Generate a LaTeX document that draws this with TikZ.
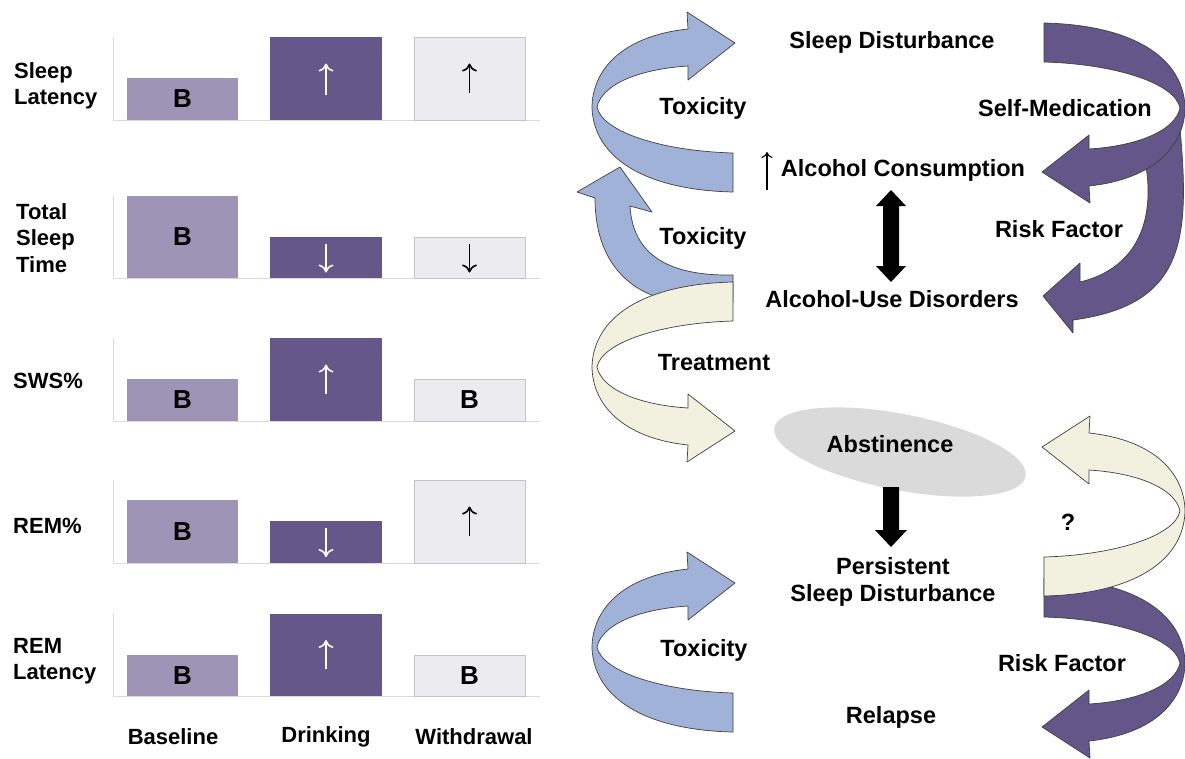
\documentclass[tikz,border=0pt]{standalone}
\usepackage{fontspec}
\setmainfont{Liberation Sans}
\usetikzlibrary{arrows.meta,calc,shapes.geometric}
\definecolor{bbase}{RGB}{158,148,182}
\definecolor{bdrink}{RGB}{101,87,138}
\definecolor{bwith}{RGB}{236,235,240}
\definecolor{bwithb}{RGB}{196,196,200}
\definecolor{axisc}{RGB}{218,218,218}
\definecolor{rblue}{RGB}{161,178,216}
\definecolor{rbeige}{RGB}{242,240,222}
\definecolor{rpurp}{RGB}{101,86,138}
\definecolor{ellg}{RGB}{218,218,218}
\newcommand{\ribA}{(733,153) .. controls (662,151) and (602,132) .. (597,107) .. controls (602,84) and (640,69) .. (688,66) -- (688,80) -- (735,43) -- (687,12) -- (688,29) .. controls (622,36) and (592,70) .. (592,108) .. controls (594,158) and (645,190) .. (733,192) -- cycle}
\begin{document}
\begin{tikzpicture}[x=1pt,y=-1pt,
  lbl/.style={font=\fontsize{22}{26.5}\selectfont\bfseries, inner sep=0pt, align=left},
  rl/.style={font=\fontsize{23.5}{27}\selectfont\bfseries, inner sep=0pt, align=center},
  btxt/.style={font=\fontsize{26}{30}\selectfont\bfseries, inner sep=0pt},
  barB/.style={fill=bbase, minimum width=111pt, inner sep=0pt, outer sep=0pt, anchor=south west},
  barD/.style={fill=bdrink, minimum width=112pt, inner sep=0pt, outer sep=0pt, anchor=south west},
  barW/.style={fill=bwith, draw=bwithb, line width=1pt, minimum width=111pt, inner sep=0pt, outer sep=0pt, anchor=south west},
  axisl/.style={draw=axisc, line width=1pt},
  wup/.style={draw=white, line width=1.6pt, -{To[length=8pt,width=15pt]}},
  kup/.style={draw=black, line width=1.6pt, -{To[length=8pt,width=15pt]}},
  ribbon/.style={draw=black!75, line width=0.7pt, line join=round},
  blk/.style={fill=black}]
\useasboundingbox (0,0) rectangle (1185,758);
\fill[white] (0,0) rectangle (1185,758);

% ---------- left: axes ----------
\foreach \b in {120,278,421,563,696}{
  \draw[axisl] (113,\b-83) -- (113,\b) -- (540,\b);
}
% row 1: sleep latency
\node[barB, minimum height=42pt] (r1b) at (127,120) {};
\node[barD, minimum height=83pt] (r1d) at (270,120) {};
\node[barW, minimum height=83pt] (r1w) at (414,120) {};
\node[btxt] (r1bt) at (r1b.center) {B};
\draw[wup] ([yshift=-16pt]r1d.center) -- ([yshift=15pt]r1d.center);
\draw[kup] ([yshift=-14pt]r1w.center) -- ([yshift=15pt]r1w.center);
% row 2: total sleep time
\node[barB, minimum height=82pt] (r2b) at (127,278) {};
\node[barD, minimum height=41pt] (r2d) at (270,278) {};
\node[barW, minimum height=41pt] (r2w) at (414,278) {};
\node[btxt] (r2bt) at (r2b.center) {B};
\draw[wup] ([yshift=14pt]r2d.center) -- ([yshift=-15pt]r2d.center);
\draw[kup] ([yshift=14pt]r2w.center) -- ([yshift=-15pt]r2w.center);
% row 3: SWS%
\node[barB, minimum height=42pt] (r3b) at (127,421) {};
\node[barD, minimum height=83pt] (r3d) at (270,421) {};
\node[barW, minimum height=42pt] (r3w) at (414,421) {};
\node[btxt] (r3bt) at (r3b.center) {B};
\node[btxt] (r3wt) at (r3w.center) {B};
\draw[wup] ([yshift=-14pt]r3d.center) -- ([yshift=15pt]r3d.center);
% row 4: REM%
\node[barB, minimum height=63pt] (r4b) at (127,563) {};
\node[barD, minimum height=42pt] (r4d) at (270,563) {};
\node[barW, minimum height=83pt] (r4w) at (414,563) {};
\node[btxt] (r4bt) at (r4b.center) {B};
\draw[wup] ([yshift=14pt]r4d.center) -- ([yshift=-15pt]r4d.center);
\draw[kup] ([yshift=-14pt]r4w.center) -- ([yshift=15pt]r4w.center);
% row 5: REM latency
\node[barB, minimum height=41pt] (r5b) at (127,696) {};
\node[barD, minimum height=82pt] (r5d) at (270,696) {};
\node[barW, minimum height=41pt] (r5w) at (414,696) {};
\node[btxt] (r5bt) at (r5b.center) {B};
\node[btxt] (r5wt) at (r5w.center) {B};
\draw[wup] ([yshift=-14pt]r5d.center) -- ([yshift=15pt]r5d.center);

% row labels
\node[lbl, anchor=west] (l1) at (14,86) {Sleep\\Latency};
\node[lbl, anchor=west] (l2) at (16,238) {Total\\Sleep\\Time};
\node[lbl, anchor=west] (l3) at (13,381) {SWS\%};
\node[lbl, anchor=west] (l4) at (13,526) {REM\%};
\node[lbl, anchor=west] (l5) at (13,661) {REM\\Latency};
% column labels
\node[lbl] (cb) at (173,737) {Baseline};
\node[lbl] (cd) at (326,737) {Drinking};
\node[lbl] (cw) at (474,737) {Withdrawal};

% ---------- right: ribbons ----------
% A1 top-left blue
\path[ribbon, fill=rblue] \ribA;
% A2 rising blue
\path[ribbon, fill=rblue] (733,275) .. controls (680,276) and (633,262) .. (630,206) -- (652,212) -- (620,167) -- (577,192) -- (595,198) .. controls (595,250) and (618,285) .. (660,298) -- (733,302) -- cycle;
% A3 beige treatment
\begin{scope}[shift={(0,474)}, yscale=-1]
  \path[ribbon, fill=rbeige] \ribA;
\end{scope}
% A4 bottom blue
\begin{scope}[shift={(0,540)}]
  \path[ribbon, fill=rblue] \ribA;
\end{scope}
% P2 purple risk factor (behind P1)
\path[ribbon, fill=rpurp] (1143,152) .. controls (1155,200) and (1150,265) .. (1080,282) -- (1080,263) -- (1043,296) -- (1073,333) -- (1073,320) .. controls (1185,305) and (1190,240) .. (1180,128) -- cycle;
% P1 purple self-medication
\begin{scope}[shift={(1777,215)}, xscale=-1, yscale=-1]
  \path[ribbon, fill=rpurp] \ribA;
\end{scope}
% P4 purple risk factor (bottom)
\begin{scope}[shift={(1777,770)}, xscale=-1, yscale=-1]
  \path[ribbon, fill=rpurp] \ribA;
\end{scope}
% P3 beige question
\begin{scope}[shift={(1777,404)}, xscale=-1]
  \path[ribbon, fill=rbeige] \ribA;
\end{scope}

% ellipse
\node[ellipse, fill=ellg, minimum width=256pt, minimum height=76pt, inner sep=0pt, rotate=-11] (absell) at (900,452) {};

% ---------- right: texts ----------
\node[rl] (sd) at (892,42) {Sleep Disturbance};
\node[rl] (tox1) at (703,108) {Toxicity};
\node[rl] (selfmed) at (1065,108) {Self-Medication};
\node[rl] (cons) at (903,170) {Alcohol Consumption};
\node[rl] (tox2) at (703,238) {Toxicity};
\node[rl] (risk1) at (1059,229) {Risk Factor};
\node[rl] (aud) at (892,299) {Alcohol-Use Disorders};
\node[rl] (treat) at (714,363) {Treatment};
\node[rl] (abs) at (890,444) {Abstinence};
\node[rl] (q) at (1068,522) {?};
\node[rl] (psd) at (893,582) {Persistent\\Sleep Disturbance};
\node[rl] (tox3) at (704,650) {Toxicity};
\node[rl] (risk2) at (1062,663) {Risk Factor};
\node[rl] (rel) at (891,717) {Relapse};

% thin up arrow before Alcohol Consumption
\coordinate (upb) at (767,190);
\draw[draw=black, line width=1.1pt, -{To[length=6pt,width=11pt]}] (upb) -- ([yshift=38pt]upb);

% black double arrow
\coordinate (dA) at (891,190);
\coordinate (dB) at (891,282);
\fill[blk] (dA) -- ($(dA)+(15,16)$) -- ($(dA)+(8,16)$) -- ($(dB)+(8,-16)$) -- ($(dB)+(15,-16)$) -- (dB) -- ($(dB)+(-15,-16)$) -- ($(dB)+(-8,-16)$) -- ($(dA)+(-8,16)$) -- ($(dA)+(-15,16)$) -- cycle;
% black down arrow
\coordinate (aT) at (891,487);
\coordinate (aB) at (891,547);
\fill[blk] (aB) -- ($(aB)+(16,-17)$) -- ($(aB)+(8,-17)$) -- ($(aT)+(8,0)$) -- ($(aT)+(-8,0)$) -- ($(aB)+(-8,-17)$) -- ($(aB)+(-16,-17)$) -- cycle;
\end{tikzpicture}
\end{document}
